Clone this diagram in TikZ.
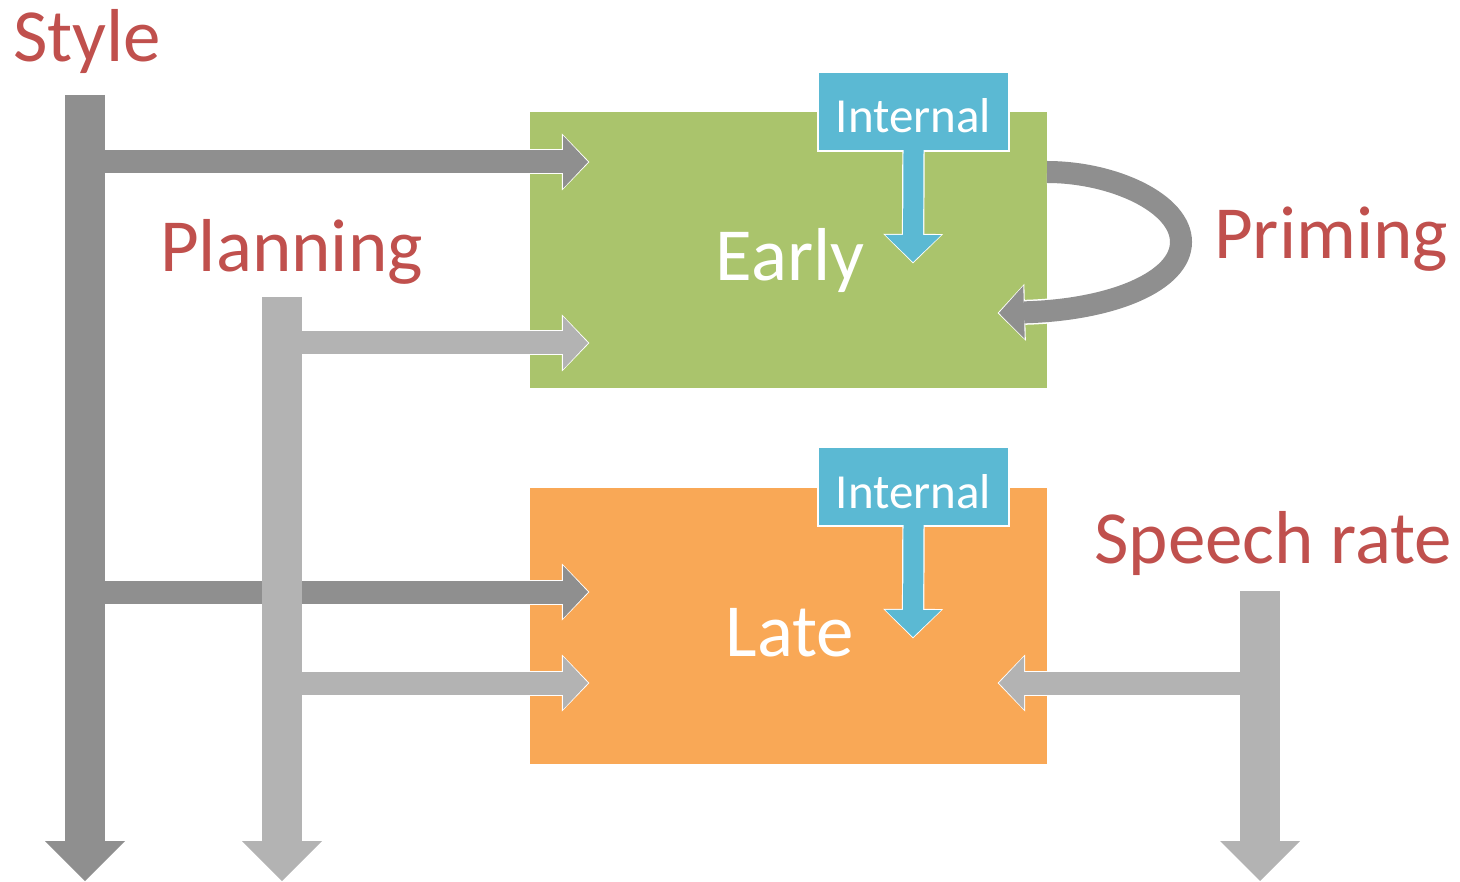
\documentclass[tikz,border=0pt]{standalone}
\usepackage{fontspec}
\setmainfont{Carlito}
\usetikzlibrary{arrows.meta}
\definecolor{tagred}{HTML}{C0504D}
\definecolor{earlygreen}{HTML}{AAC46C}
\definecolor{lateorange}{HTML}{F9A856}
\definecolor{intblue}{HTML}{5BB9D3}
\definecolor{darkbar}{HTML}{8F8F8F}
\definecolor{lightbar}{HTML}{B3B3B3}
\begin{document}
\begin{tikzpicture}[x=1pt, y=-1pt,
  tag/.style={anchor=base west, inner sep=0pt, text=tagred, font=\fontsize{75}{90}\selectfont},
  stagebox/.style={anchor=north west, minimum width=517pt, minimum height=276pt, inner sep=0pt},
  stagename/.style={anchor=base, inner sep=0pt, text=white, font=\fontsize{75}{90}\selectfont},
  intbox/.style={fill=intblue, draw=white, line width=1.2pt, minimum width=191pt, minimum height=79pt,
                 inner sep=0pt, text=white, text height=43pt, text depth=0pt, font=\fontsize{49}{59}\selectfont},
  halo/.style={white, line width=25pt, -{Triangle[length=27.5pt, width=57pt, line width=0pt]}, shorten >=-1.4pt},
  flow/.style={color=#1, line width=23pt, -{Triangle[length=25pt, width=53pt, line width=0pt]}},
  inthalo/.style={white, line width=22.4pt, -{Triangle[length=29.5pt, width=60pt, line width=0pt]}, shorten >=-1.4pt},
  intflow/.style={color=intblue, line width=20pt, -{Triangle[length=27pt, width=56pt, line width=0pt]}},
  bar/.style={color=#1, line width=40pt, -{Triangle[length=40pt, width=80pt, line width=0pt]}},
  ]
  \useasboundingbox (0,0) rectangle (1460,882);
  % ---- stages --------------------------------------------------------------
  \node[stagebox, fill=earlygreen] (early) at (530,112) {};
  \node[stagebox, fill=lateorange] (late)  at (530,488) {};
  % ---- bars and their end points -------------------------------------------
  \coordinate (styletop)  at (85,95);    \coordinate (stylebot)  at (85,881);
  \coordinate (plantop)   at (282,297);  \coordinate (planbot)   at (282,881);
  \coordinate (ratetop)   at (1260,591); \coordinate (ratebot)   at (1260,881);
  \coordinate (tipA) at (588,162);
  \coordinate (tipB) at (588,343);
  \coordinate (tipC) at (588,592);
  \coordinate (tipD) at (588,683);
  \coordinate (tipE) at (999,683);
  % ---- inputs into the stages ----------------------------------------------
  \foreach \t in {A,C} {
    \draw[halo] (styletop |- tip\t) -- (tip\t);
    \draw[flow=darkbar] (styletop |- tip\t) -- (tip\t);
  }
  \foreach \t in {B,D} {
    \draw[halo] (plantop |- tip\t) -- (tip\t);
    \draw[flow=lightbar] (plantop |- tip\t) -- (tip\t);
  }
  \draw[halo] (ratetop |- tipE) -- (tipE);
  \draw[flow=lightbar] (ratetop |- tipE) -- (tipE);
  \draw[bar=darkbar]  (styletop) -- (stylebot);
  \draw[bar=lightbar] (plantop) -- (planbot);
  \draw[bar=lightbar] (ratetop) -- (ratebot);
  % priming loops back into the early stage
  \coordinate (loopstart) at (1047,172);
  \coordinate (looptip)   at (999,313);
  \draw[halo] (loopstart) .. controls (1113,172) and (1181,203) .. (1181,242)
    .. controls (1181,281) and (1113,310) .. (looptip);
  \draw[flow=darkbar, line width=22pt] (loopstart) .. controls (1113,172) and (1181,203) .. (1181,242)
    .. controls (1181,281) and (1113,310) .. (looptip);
  % ---- internal factors ----------------------------------------------------
  \node[intbox] (int1) at (913.5,111.5) {Internal};
  \node[intbox] (int2) at (913.5,486.5) {Internal};
  \coordinate (int1tip) at (913,262);
  \coordinate (int2tip) at (913,637);
  \foreach \i in {1,2} {
    \draw[inthalo] (int\i.south) -- (int\i tip);
    \draw[intflow, shorten <=-2pt] (int\i.south) -- (int\i tip);
  }
  % ---- labels --------------------------------------------------------------
  \node[stagename] (earlyname) at (790,281) {Early};
  \node[stagename] (latename)  at (790,656) {Late};
  \node[tag] (style)    at (13,62)    {Style};
  \node[tag] (planning) at (160,272)  {Planning};
  \node[tag] (priming)  at (1214,259) {Priming};
  \node[tag] (rate)     at (1094,563) {Speech rate};
\end{tikzpicture}
\end{document}
